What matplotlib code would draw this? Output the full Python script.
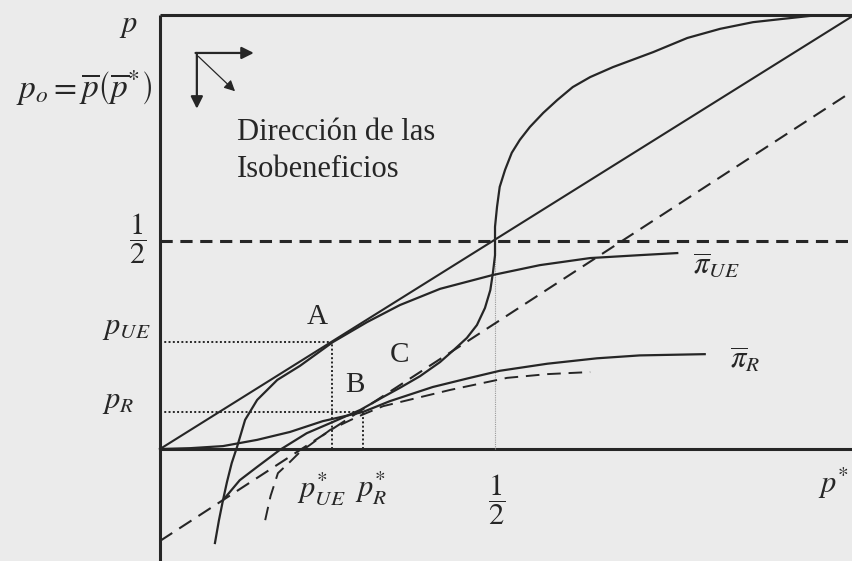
import matplotlib
matplotlib.use("Agg")
import matplotlib.pyplot as plt

plt.rcParams["font.family"] = ["Liberation Serif", "DejaVu Serif"]
plt.rcParams["mathtext.fontset"] = "stix"

# values, in (p*, p) units
diag_x = [0.0, 1.033]
diag_y = [0.0, 1.040]

dash45_x = [0.0, 1.025]
dash45_y = [-0.221, 0.851]

# reaction curve (S shape), lower end to upper end
reaction_x = [0.094, 0.119, 0.145, 0.179, 0.219, 0.258, 0.299, 0.333, 0.358, 0.388,
              0.418, 0.437, 0.458, 0.473, 0.485, 0.493, 0.497, 0.500, 0.500, 0.500,
              0.503, 0.507, 0.515, 0.525, 0.537, 0.552, 0.572, 0.593, 0.616, 0.642,
              0.676, 0.716, 0.736, 0.787, 0.836, 0.885, 0.930, 0.970, 1.033]
reaction_y = [-0.123, -0.075, -0.043, -0.002, 0.038, 0.065, 0.094, 0.125, 0.147, 0.175,
              0.209, 0.236, 0.267, 0.298, 0.339, 0.382, 0.425, 0.466, 0.502, 0.534,
              0.582, 0.630, 0.671, 0.712, 0.743, 0.774, 0.808, 0.839, 0.870, 0.894,
              0.918, 0.942, 0.954, 0.988, 1.010, 1.026, 1.034, 1.041, 1.043]

pi_ue_x = [0.082, 0.088, 0.094, 0.100, 0.107, 0.115, 0.127, 0.145, 0.175, 0.209,
           0.258, 0.309, 0.358, 0.418, 0.496, 0.567, 0.642, 0.716, 0.772]
pi_ue_y = [-0.226, -0.171, -0.123, -0.079, -0.034, 0.005, 0.070, 0.118, 0.166, 0.200,
           0.257, 0.305, 0.346, 0.385, 0.418, 0.442, 0.459, 0.466, 0.471]

pi_r_x = [0.0, 0.045, 0.094, 0.145, 0.194, 0.243, 0.303, 0.343, 0.407, 0.460,
          0.507, 0.578, 0.652, 0.716, 0.813]
pi_r_y = [0.0, 0.002, 0.007, 0.022, 0.041, 0.067, 0.089, 0.115, 0.149, 0.170,
          0.188, 0.205, 0.218, 0.225, 0.228]

pi_r_dash_x = [0.157, 0.165, 0.176, 0.194, 0.209, 0.224, 0.254, 0.294, 0.333, 0.433,
               0.518, 0.578, 0.642]
pi_r_dash_y = [-0.171, -0.113, -0.058, -0.031, -0.007, 0.010, 0.046, 0.077, 0.103, 0.142,
               0.171, 0.180, 0.185]

p_ue_star, p_ue = 0.257, 0.257
p_r_star, p_r = 0.303, 0.089
half = 0.5
top = 1.043

ink = "#262626"
bg = "#ebebeb"

fig = plt.figure(figsize=(8.52, 5.61), dpi=100, facecolor=bg)
ax = fig.add_axes([0, 0, 1, 1])
ax.set_facecolor(bg)
ax.set_xlim(-0.2388, 1.0328)
ax.set_ylim(-0.2692, 1.0793)
ax.axis("off")

# frame: axes and top line
ax.plot([0, 0], [-0.2692, top], color=ink, lw=2.2, solid_capstyle="butt")
ax.plot([0, 1.0328], [0, 0], color=ink, lw=2.2, solid_capstyle="butt")
ax.plot([0, 1.0328], [top, top], color=ink, lw=2.2, solid_capstyle="butt")

# reference lines
ax.plot([0, 1.0328], [half, half], color=ink, lw=2.2, ls=(0, (4, 2.5)))
ax.plot([half, half], [0, half], color="#9a9a9a", lw=0.8, ls=(0, (1, 1)))
ax.plot(dash45_x, dash45_y, color=ink, lw=1.5, ls=(0, (7, 4)))
ax.plot(diag_x, diag_y, color=ink, lw=1.5)

# curves
ax.plot(reaction_x, reaction_y, color=ink, lw=1.6, solid_joinstyle="round")
ax.plot(pi_ue_x, pi_ue_y, color=ink, lw=1.6, solid_joinstyle="round")
ax.plot(pi_r_x, pi_r_y, color=ink, lw=1.6, solid_joinstyle="round")
ax.plot(pi_r_dash_x, pi_r_dash_y, color=ink, lw=1.4, ls=(0, (7, 4)))

# dotted guides to the equilibria
dots = (0, (1, 1.2))
ax.plot([0, p_ue_star], [p_ue, p_ue], color=ink, lw=1.4, ls=dots)
ax.plot([p_ue_star, p_ue_star], [0, p_ue], color=ink, lw=1.4, ls=dots)
ax.plot([0, p_r_star], [p_r, p_r], color=ink, lw=1.4, ls=dots)
ax.plot([p_r_star, p_r_star], [0, p_r], color=ink, lw=1.4, ls=dots)

# direction-of-isoprofits icon
arrow = dict(arrowstyle="-|>", color=ink, lw=1.6, mutation_scale=18, shrinkA=0, shrinkB=0)
ax.annotate("", xy=(0.055, 0.818), xytext=(0.055, 0.952), arrowprops=arrow)
ax.annotate("", xy=(0.140, 0.952), xytext=(0.053, 0.952), arrowprops=arrow)
ax.annotate("", xy=(0.112, 0.860), xytext=(0.057, 0.944),
            arrowprops=dict(arrowstyle="-|>", color=ink, lw=0.9, mutation_scale=16,
                            shrinkA=0, shrinkB=0))

fs = 22
ax.text(-0.048, 1.019, r"$p$", fontsize=fs, color=ink, ha="center", va="center")
ax.text(-0.012, 0.868, r"$p_o=\overline{p}\left(\overline{p}^{*}\right)$", fontsize=24,
        color=ink, ha="right", va="center")
ax.text(0.115, 0.743, "Dirección de las", fontsize=22, color=ink, va="baseline")
ax.text(0.115, 0.654, "Isobeneficios", fontsize=22, color=ink, va="baseline")

ax.text(-0.034, 0.505, r"$\dfrac{1}{2}$", fontsize=fs, color=ink, ha="center", va="center")
ax.text(-0.087, 0.291, r"$p_{UE}$", fontsize=fs, color=ink, ha="left", va="center")
ax.text(-0.087, 0.113, r"$p_{R}$", fontsize=fs, color=ink, ha="left", va="center")

ax.text(0.234, 0.317, "A", fontsize=21, color=ink, ha="center", va="center")
ax.text(0.291, 0.154, "B", fontsize=21, color=ink, ha="center", va="center")
ax.text(0.358, 0.226, "C", fontsize=21, color=ink, ha="center", va="center")

ax.text(0.204, -0.094, r"$p_{UE}^{*}$", fontsize=fs, color=ink, ha="left", va="center")
ax.text(0.291, -0.094, r"$p_{R}^{*}$", fontsize=fs, color=ink, ha="left", va="center")
ax.text(0.503, -0.123, r"$\dfrac{1}{2}$", fontsize=fs, color=ink, ha="center", va="center")
ax.text(1.028, -0.082, r"$p^{*}$", fontsize=fs, color=ink, ha="right", va="center")

ax.text(0.796, 0.44, r"$\overline{\pi}_{UE}$", fontsize=fs, color=ink, ha="left", va="center")
ax.text(0.851, 0.214, r"$\overline{\pi}_{R}$", fontsize=fs, color=ink, ha="left", va="center")

fig.savefig("out.png", dpi=100, facecolor=bg)
